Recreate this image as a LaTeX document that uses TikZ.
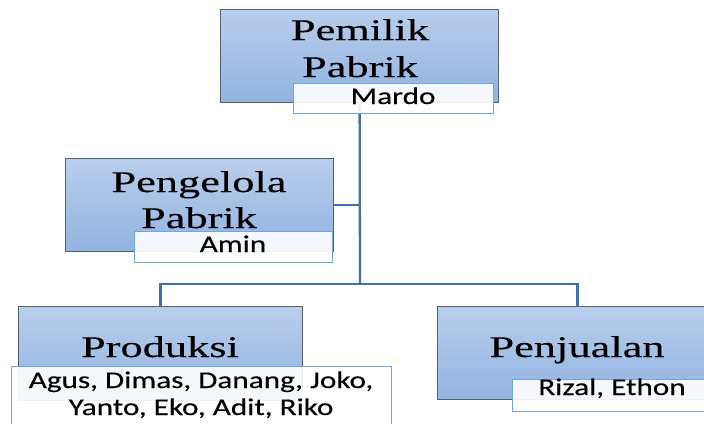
\documentclass[tikz,border=0pt]{standalone}
\usepackage{fontspec}
\newfontfamily\titlefont[FakeStretch=1.48,FakeBold=0.25]{Liberation Serif}
\newfontfamily\labelfont[FakeStretch=1.3,FakeBold=0.3]{Carlito}
\definecolor{boxtop}{RGB}{184,206,236}
\definecolor{boxbot}{RGB}{146,179,224}
\definecolor{boxline}{RGB}{88,96,110}
\definecolor{lblline}{RGB}{112,166,224}
\definecolor{conn}{RGB}{66,112,168}
\tikzset{
  rolebox/.style={draw=boxline, line width=1.2pt, top color=boxtop, bottom color=boxbot, inner sep=0pt, anchor=north west},
  namebox/.style={draw=lblline, line width=1.1pt, fill=white, fill opacity=0.9, inner sep=0pt, anchor=north west},
  titletext/.style={anchor=base, inner sep=0pt, font=\titlefont\fontsize{30}{34}\selectfont},
  nametext/.style={anchor=base, inner sep=0pt, font=\labelfont\fontsize{24}{27}\selectfont},
  link/.style={draw=conn, line width=2.3pt}
}
\begin{document}
\begin{tikzpicture}[x=1pt,y=-1pt]
\useasboundingbox (0,0) rectangle (704,423);
% boxes
\node[rolebox, minimum width=278pt, minimum height=93pt] (pemilik) at (220,9) {};
\node[rolebox, minimum width=268pt, minimum height=93pt] (pengelola) at (65,158) {};
\node[rolebox, minimum width=284pt, minimum height=94pt] (produksi) at (18,306) {};
\node[rolebox, minimum width=280pt, minimum height=93pt] (penjualan) at (437,306) {};
% connectors
\coordinate (hub) at (360,284);
\draw[link] (pemilik.south) -- (hub);
\draw[link] (pengelola.east) -- (pengelola.east -| hub);
\draw[link] (produksi.north) |- (hub) -| (penjualan.north);
% name boxes
\node[namebox, minimum width=200pt, minimum height=30pt] (mardo) at (293,83) {};
\node[namebox, minimum width=198pt, minimum height=31pt] (amin) at (134,231) {};
\node[namebox, minimum width=380pt, minimum height=70pt] (prodnames) at (11,366) {};
\node[namebox, minimum width=200pt, minimum height=32pt] (penjnames) at (512,379) {};
% titles
\node[titletext] (t1a) at (360,40) {Pemilik};
\node[titletext] (t1b) at (360,77) {Pabrik};
\node[titletext] (t2a) at (199,192) {Pengelola};
\node[titletext] (t2b) at (199,228) {Pabrik};
\node[titletext] (t3) at (160,357) {Produksi};
\node[titletext] (t4) at (577,357) {Penjualan};
% names
\node[nametext] (n1) at (393,104) {Mardo};
\node[nametext] (n2) at (233,252) {Amin};
\node[nametext] (n3a) at (201,388) {Agus, Dimas, Danang, Joko,};
\node[nametext] (n3b) at (201,415) {Yanto, Eko, Adit, Riko};
\node[nametext] (n4) at (612,395) {Rizal, Ethon};
\end{tikzpicture}
\end{document}
